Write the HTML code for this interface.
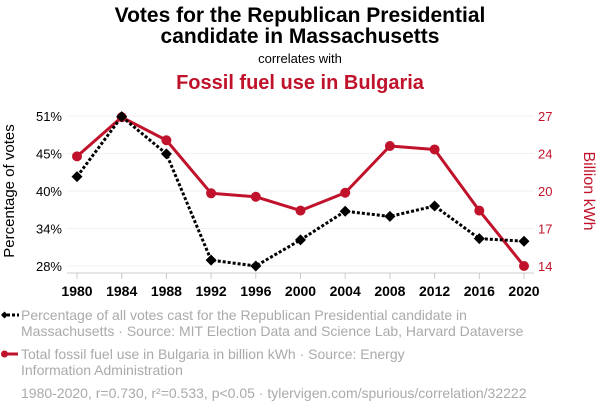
<!DOCTYPE html>
<html><head><meta charset="utf-8"><style>
body{margin:0;background:#fff;width:600px;height:414px;overflow:hidden;font-family:"Liberation Sans",sans-serif}
</style></head><body>
<svg id="chart" width="600" height="414" viewBox="0 0 600 414" xmlns="http://www.w3.org/2000/svg" font-family="Liberation Sans, sans-serif">
<text x="300" y="22" text-anchor="middle" font-size="21" font-weight="bold" fill="#000">Votes for the Republican Presidential</text>
<text x="300" y="43" text-anchor="middle" font-size="21" font-weight="bold" fill="#000">candidate in Massachusetts</text>
<text x="300" y="63" text-anchor="middle" font-size="13" fill="#000">correlates with</text>
<text x="300" y="89" text-anchor="middle" font-size="20" font-weight="bold" fill="#c0132b">Fossil fuel use in Bulgaria</text>
<g id="grid"></g>
<line x1="67" y1="273" x2="534" y2="273" stroke="#ccc"/>
<g id="xticks"></g>
<g id="lticks"></g>
<g id="rticks"></g>
<text transform="translate(14,191) rotate(-90)" text-anchor="middle" font-size="15" fill="#000">Percentage of votes</text>
<text transform="translate(584,191) rotate(90)" text-anchor="middle" font-size="16" fill="#c0132b">Billion kWh</text>
<g id="series"></g>
<g>
<line x1="2" y1="315" x2="19" y2="315" stroke="#000" stroke-width="3" stroke-dasharray="3,2"/>
<path d="M1,315 L4.5,311.5 8,315 4.5,318.5Z" fill="#000"/>
<text x="21" y="320" font-size="14" fill="#aaa">Percentage of all votes cast for the Republican Presidential candidate in</text>
<text x="21" y="336" font-size="14" fill="#aaa">Massachusetts · Source: MIT Election Data and Science Lab, Harvard Dataverse</text>
</g>
<g>
<line x1="3" y1="354" x2="18" y2="354" stroke="#c0132b" stroke-width="3"/>
<circle cx="4.5" cy="354" r="3.5" fill="#c0132b"/>
<text x="21" y="359" font-size="14" fill="#aaa">Total fossil fuel use in Bulgaria in billion kWh · Source: Energy</text>
<text x="21" y="375" font-size="14" fill="#aaa">Information Administration</text>
</g>
<text x="21" y="398" font-size="14" fill="#aaa">1980-2020, r=0.730, r²=0.533, p&lt;0.05 · tylervigen.com/spurious/correlation/32222</text>
</svg>
<script>
const years=[1980,1984,1988,1992,1996,2000,2004,2008,2012,2016,2020];
const votes=[41.7,50.9,45.2,28.9,28.0,32.0,36.4,35.6,37.2,32.2,31.8];
const fossil=[23.5,26.9,24.9,20.3,20.0,18.8,20.35,24.4,24.1,18.8,14.0];
const leftTicks=["28%","34%","40%","45%","51%"];
const rightTicks=["14","17","20","24","27"];
const NS="http://www.w3.org/2000/svg";
const X0=77,X1=524,Y0=266,Y1=116;
const xS=y=>X0+(y-1980)/(2020-1980)*(X1-X0);
const yL=v=>Y0-(v-28)/(51-28)*(Y0-Y1);
const yR=v=>Y0-(v-14)/(27-14)*(Y0-Y1);
function mk(tag,attrs,parent,txt){const e=document.createElementNS(NS,tag);for(const k in attrs)e.setAttribute(k,attrs[k]);if(txt!=null)e.textContent=txt;parent.appendChild(e);return e;}
const grid=document.getElementById('grid'),xt=document.getElementById('xticks'),lt=document.getElementById('lticks'),rt=document.getElementById('rticks'),se=document.getElementById('series');
for(let i=0;i<leftTicks.length;i++){
  const y=Y0-i*(Y0-Y1)/(leftTicks.length-1);
  const g=mk('line',{x1:67,x2:534,y1:y,y2:y,stroke:'#f0f0f0'},grid);
  
  
  const a=mk('text',{x:62,y:y+5,'text-anchor':'end','font-size':13,fill:'#000'},lt,leftTicks[i]);
  
  
  const b=mk('text',{x:538,y:y+5,'font-size':13,fill:'#c0132b'},rt,rightTicks[i]);
  
  
}
years.forEach(yr=>{
  const x=xS(yr);
  const t=mk('line',{x1:x,x2:x,y1:273,y2:279,stroke:'#ccc'},xt);
  
  
  const l=mk('text',{x:x,y:296,'text-anchor':'middle','font-size':14,'font-weight':'bold',fill:'#000'},xt,String(yr));
  
  
});
const rp=years.map((y,i)=>xS(y)+','+yR(fossil[i])).join(' ');
const rl=mk('polyline',{points:rp,fill:'none',stroke:'#c0132b','stroke-width':3,'stroke-linejoin':'round'},se);


const bp=years.map((y,i)=>xS(y)+','+yL(votes[i])).join(' ');
const bl=mk('polyline',{points:bp,fill:'none',stroke:'#000','stroke-width':3,'stroke-dasharray':'3,2'},se);


years.forEach((y,i)=>{
  const c=mk('circle',{cx:xS(y),cy:yR(fossil[i]),r:5,fill:'#c0132b'},se);
  
  
});
years.forEach((y,i)=>{
  const x=xS(y),v=yL(votes[i]);
  const d=mk('path',{d:`M${x-5.5},${v} L${x},${v-5.5} ${x+5.5},${v} ${x},${v+5.5}Z`,fill:'#000'},se);
  
  
});
</script>
</body></html>
